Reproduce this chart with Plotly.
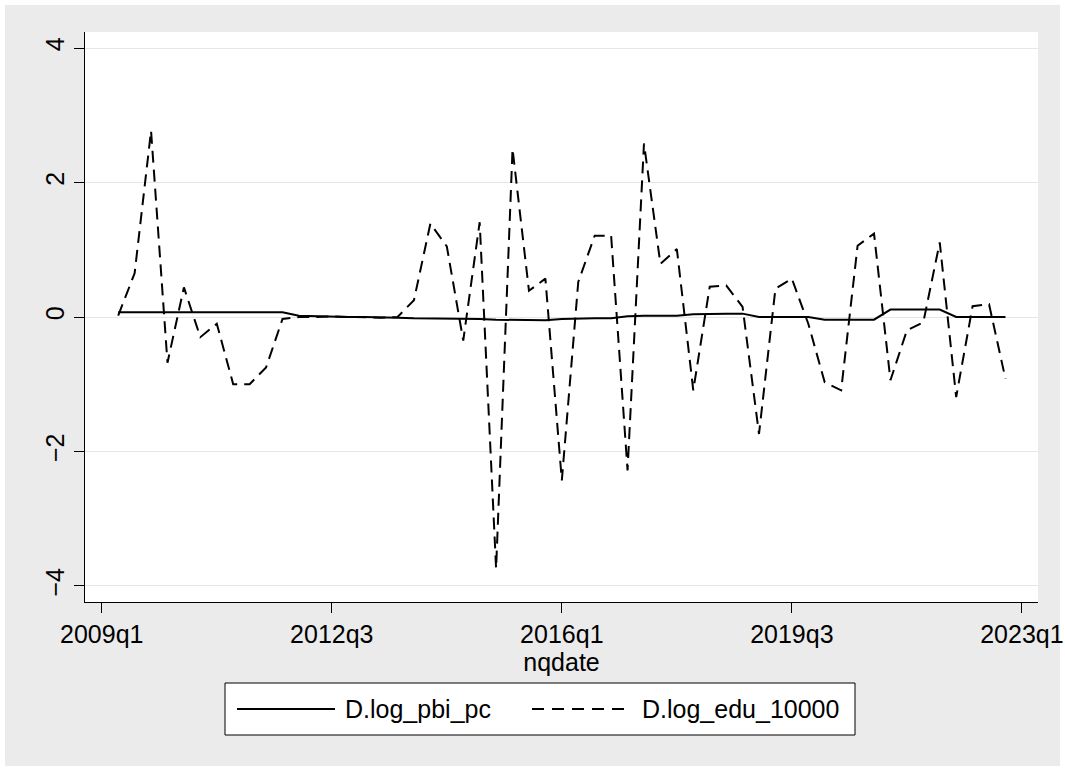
import plotly.graph_objects as go

# Quarterly dates 2009q2 .. 2022q4
quarters = [f"{y}q{q}" for y in range(2009, 2023) for q in range(1, 5)][1:]

d_log_pbi_pc = [
    0.07, 0.07, 0.07, 0.07, 0.07, 0.07, 0.08, 0.08, 0.08, 0.08,
    0.07, 0.02, 0.01, 0.01, 0.00, 0.00, 0.00, -0.01, -0.02, -0.02,
    -0.03, -0.03, -0.03, -0.04, -0.04, -0.05, -0.05, -0.03, -0.02, -0.02,
    -0.02, 0.01, 0.02, 0.02, 0.02, 0.04, 0.05, 0.05, 0.05, 0.00,
    0.00, 0.00, 0.00, -0.04, -0.04, -0.04, -0.04, 0.11, 0.11, 0.11,
    0.11, 0.00, 0.00, 0.00, 0.00,
]

d_log_edu_10000 = [
    0.02, 0.65, 2.77, -0.68, 0.44, -0.30, -0.10, -1.00, -1.00, -0.75,
    -0.03, 0.00, 0.00, 0.01, 0.00, -0.01, -0.01, 0.00, 0.25, 1.39,
    1.05, -0.35, 1.41, -3.74, 2.50, 0.39, 0.57, -2.43, 0.52, 1.21,
    1.21, -2.28, 2.58, 0.79, 1.01, -1.09, 0.45, 0.47, 0.15, -1.74,
    0.42, 0.57, -0.10, -0.97, -1.09, 1.06, 1.24, -0.94, -0.20, -0.08,
    1.11, -1.19, 0.16, 0.19, -0.92,
]

x_tick_labels = ["2009q1", "2012q3", "2016q1", "2019q3", "2023q1"]
y_tick_values = [-4, -2, 0, 2, 4]
series_names = ["D.log_pbi_pc", "D.log_edu_10000"]


def qindex(s):
    return (int(s[:4]) - 2009) * 4 + int(s[5]) - 1


x = [qindex(s) for s in quarters]
x_tick_vals = [qindex(s) for s in x_tick_labels]

FONT = "Liberation Sans, Arial, sans-serif"
W, H = 1065, 771
L, R, T, B = 85, 1038, 32, 602  # plot area in pixels


def px_x(p):
    return (p - L) / (R - L)


def px_y(p):
    return (B - p) / (B - T)


fig = go.Figure()
fig.add_trace(go.Scatter(x=x, y=d_log_pbi_pc, mode="lines", name=series_names[0],
                         line=dict(color="black", width=2), showlegend=False))
fig.add_trace(go.Scatter(x=x, y=d_log_edu_10000, mode="lines", name=series_names[1],
                         line=dict(color="black", width=2, dash="12px,7px"), showlegend=False))

shapes = [
    # thin white frame around the whole graph
    dict(type="rect", xref="paper", yref="paper", x0=px_x(0), x1=px_x(W),
         y0=px_y(H), y1=px_y(0), line=dict(color="white", width=10), layer="below"),
    # Manual legend (Stata-style box under the plot)
    dict(type="rect", xref="paper", yref="paper", x0=px_x(225), x1=px_x(855),
         y0=px_y(683), y1=px_y(735), line=dict(color="black", width=1), fillcolor="white", layer="above"),
    dict(type="line", xref="paper", yref="paper", x0=px_x(237), x1=px_x(335),
         y0=px_y(709), y1=px_y(709), line=dict(color="black", width=2)),
    dict(type="line", xref="paper", yref="paper", x0=px_x(532), x1=px_x(632),
         y0=px_y(709), y1=px_y(709), line=dict(color="black", width=2, dash="12px,8px")),
]
annotations = [
    dict(xref="paper", yref="paper", x=px_x(343), y=px_y(709), text=series_names[0],
         showarrow=False, xanchor="left", yanchor="middle", font=dict(family=FONT, size=25, color="black")),
    dict(xref="paper", yref="paper", x=px_x(640), y=px_y(709), text=series_names[1],
         showarrow=False, xanchor="left", yanchor="middle", font=dict(family=FONT, size=25, color="black")),
]

fig.update_layout(
    width=W, height=H,
    margin=dict(l=L, r=W - R, t=T, b=H - B, pad=0, autoexpand=False),
    paper_bgcolor="#ebebeb",
    plot_bgcolor="white",
    font=dict(family=FONT, size=25, color="black"),
    shapes=shapes,
    annotations=annotations,
    showlegend=False,
)
fig.update_xaxes(
    automargin=False,
    range=[-1.02, 56.98], tickvals=x_tick_vals, ticktext=x_tick_labels,
    ticks="outside", ticklen=10, tickwidth=1, tickcolor="black",
    showline=True, linecolor="black", linewidth=1, mirror=False,
    showgrid=False, zeroline=False,
    tickfont=dict(family=FONT, size=25, color="black"),
    title=dict(text="nqdate", font=dict(family=FONT, size=25, color="black"), standoff=2),
)
fig.update_yaxes(
    automargin=False,
    range=[-4.238, 4.238], tickvals=y_tick_values, tickangle=-90,
    ticks="outside", ticklen=10, tickwidth=1, tickcolor="black",
    showline=True, linecolor="black", linewidth=1,
    showgrid=True, gridcolor="#e6e6e6", gridwidth=1, zeroline=False,
    tickfont=dict(family=FONT, size=25, color="black"),
)

fig.write_html("out.html")
